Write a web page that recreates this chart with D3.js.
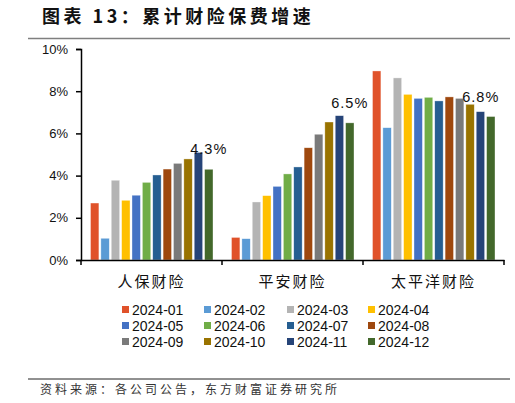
<!DOCTYPE html>
<html>
<head>
<meta charset="utf-8">
<script src="https://cdn.jsdelivr.net/npm/d3@7"></script>
<style>
  body { margin: 0; background: #fff; }
  svg { display: block; }
</style>
</head>
<body>
<div id="target"></div>
<script>
// data (cumulative growth, %)
const companies = ["人保财险", "平安财险", "太平洋财险"];
const months = ["2024-01", "2024-02", "2024-03", "2024-04", "2024-05", "2024-06",
                "2024-07", "2024-08", "2024-09", "2024-10", "2024-11", "2024-12"];
const picc = [2.70, 1.03, 3.78, 2.83, 3.07, 3.68, 4.03, 4.31, 4.58, 4.79, 5.10, 4.30];
const pingan = [1.07, 1.01, 2.75, 3.05, 3.49, 4.08, 4.41, 5.32, 5.96, 6.54, 6.84, 6.50];
const cpic = [8.96, 6.27, 8.63, 7.85, 7.66, 7.71, 7.54, 7.73, 7.66, 7.38, 7.03, 6.80];
const yTicks = [0, 2, 4, 6, 8, 10];
const colors = ["#e0522a", "#5b9bd5", "#b4b4b4", "#ffc000", "#4472c4", "#70ad47",
                "#255e91", "#9e480e", "#7a7a7a", "#997300", "#264478", "#43682b"];

const series = [picc, pingan, cpic];

const W = 515, H = 403;
const margin = {top: 49, right: 11, bottom: 143, left: 81};

let svg = d3.select("#target").append("svg")
  .attr("width", W)
  .attr("height", H);

// title + rules
svg.append("text")
  .attr("x", 42).attr("y", 23)
  .attr("font-family", "Noto Sans CJK SC")
  .attr("font-weight", "bold")
  .attr("font-size", 18)
  .attr("letter-spacing", 3.5)
  .attr("fill", "#111")
  .text("图表 13：累计财险保费增速");

svg.append("line")
  .attr("x1", 28).attr("x2", 510).attr("y1", 38.5).attr("y2", 38.5)
  .attr("stroke", "#7f7f7f").attr("stroke-width", 1.5);

svg.append("line")
  .attr("x1", 28).attr("x2", 510).attr("y1", 379).attr("y2", 379)
  .attr("stroke", "#222").attr("stroke-width", 1);

svg.append("text")
  .attr("x", 40).attr("y", 394)
  .attr("font-family", "Noto Sans CJK SC")
  .attr("font-size", 12)
  .attr("letter-spacing", 3)
  .attr("fill", "#333")
  .text("资料来源：各公司公告，东方财富证券研究所");

// scales
let x0 = d3.scaleBand()
  .domain(companies)
  .range([margin.left, W - margin.right]);

let x1 = d3.scaleBand()
  .domain(months)
  .range([9.5, x0.bandwidth() - 9])
  .paddingInner(0.19);

let y = d3.scaleLinear()
  .domain([0, 10])
  .range([H - margin.bottom, margin.top]);

// bars
let groups = svg.append("g").selectAll("g")
  .data(companies)
  .join("g")
  .attr("transform", d => `translate(${x0(d)},0)`);

groups.selectAll("rect")
  .data((d, i) => series[i].map((v, j) => ({month: months[j], value: v, k: j})))
  .join("rect")
  .attr("x", d => x1(d.month))
  .attr("width", x1.bandwidth())
  .attr("y", d => y(d.value))
  .attr("height", d => y(0) - y(d.value))
  .attr("fill", d => colors[d.k])
  .attr("stroke", "#fff")
  .attr("stroke-opacity", 0.6)
  .attr("stroke-width", 0.6);

// labels on the last month
groups.append("text")
  .attr("x", (d, i) => x1(months[11]) + x1.bandwidth() / 2 - (i === 2 ? 10 : 0))
  .attr("y", (d, i) => y(series[i][11]) - 15)
  .attr("text-anchor", "middle")
  .attr("font-family", "Liberation Sans, Arial")
  .attr("font-size", 14.5)
  .attr("letter-spacing", 1)
  .attr("fill", "#111")
  .text((d, i) => series[i][11].toFixed(1) + "%");

// axes
let yAxis = svg.append("g")
  .attr("transform", `translate(${margin.left},0)`)
  .call(d3.axisLeft(y).tickValues(yTicks).tickSize(5).tickPadding(8)
    .tickFormat(d => d + "%"));
yAxis.select(".domain").attr("stroke", "#000").attr("stroke-width", 1.5);
yAxis.selectAll(".tick line").attr("stroke", "#000").attr("stroke-width", 1.5);
yAxis.selectAll("text")
  .attr("font-family", "Liberation Sans, Arial")
  .attr("font-size", 13)
  .attr("fill", "#111");

let xAxis = svg.append("g")
  .attr("transform", `translate(0,${y(0)})`)
  .call(d3.axisBottom(x0).tickSize(0).tickPadding(16));
xAxis.select(".domain").attr("stroke", "#000").attr("stroke-width", 1.5);
xAxis.selectAll("text")
  .attr("font-family", "Noto Sans CJK SC")
  .attr("font-size", 15)
  .attr("letter-spacing", 2)
  .attr("fill", "#111");

// category separator ticks below the axis
svg.append("g").selectAll("line")
  .data(companies.concat([null]))
  .join("line")
  .attr("x1", (d, i) => i < companies.length ? x0(d) : x0.range()[1])
  .attr("x2", (d, i) => i < companies.length ? x0(d) : x0.range()[1])
  .attr("y1", y(0))
  .attr("y2", y(0) + 5)
  .attr("stroke", "#000")
  .attr("stroke-width", 1.5);

// legend
const legX = [122, 204, 287, 368];
const legY = [310, 326, 342];
let legend = svg.append("g").selectAll("g")
  .data(months)
  .join("g")
  .attr("transform", (d, i) => `translate(${legX[i % 4]},${legY[Math.floor(i / 4)]})`);

legend.append("rect")
  .attr("x", 0).attr("y", -4)
  .attr("width", 7).attr("height", 7)
  .attr("fill", (d, i) => colors[i]);

legend.append("text")
  .attr("x", 10).attr("y", 5)
  .attr("font-family", "Liberation Sans, Arial")
  .attr("font-size", 14)
  .attr("fill", "#111")
  .text(d => d);
</script>
</body>
</html>
